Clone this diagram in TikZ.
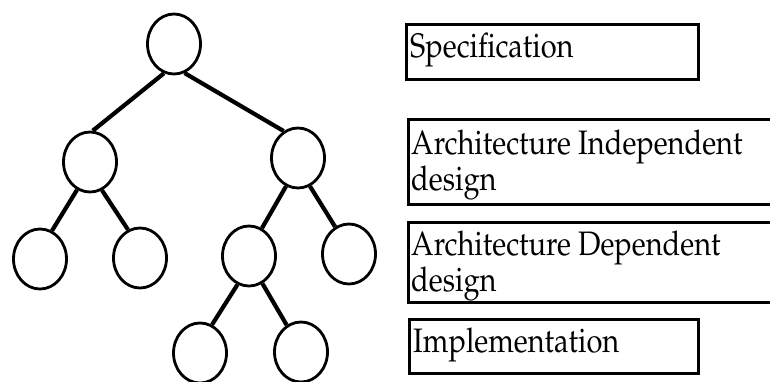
\documentclass[tikz,border=0pt]{standalone}
\usepackage[T1]{fontenc}
\usepackage{mathpazo}
\usepackage{graphicx}
\usetikzlibrary{shapes.geometric}
\tikzset{
  vtx/.style={draw, ellipse, line width=2.8pt, minimum width=53pt, minimum height=60pt, inner sep=0pt},
  edge/.style={line width=4.2pt},
  box/.style={draw, line width=2.8pt, anchor=north west, inner sep=0pt},
  lbl/.style={anchor=base west, inner sep=0pt, font=\fontsize{29}{30}\selectfont}
}
\newcommand{\vstr}[1]{\scalebox{1}[1.17]{#1}}
\begin{document}
\begin{tikzpicture}[x=1pt,y=1pt]
\useasboundingbox (0,0) rectangle (770,-381);
% tree
\node[vtx] (root) at (174,-44) {};
\node[vtx] (l) at (90,-162) {};
\node[vtx] (r) at (298,-158) {};
\node[vtx] (ll) at (40,-259) {};
\node[vtx] (lr) at (140,-258) {};
\node[vtx] (rl) at (249,-256) {};
\node[vtx] (rr) at (349,-254) {};
\node[vtx] (rll) at (200,-353) {};
\node[vtx] (rlr) at (301,-352) {};
\draw[edge] (root.251) -- (l.85);
\draw[edge] (root.290) -- (r.118);
\draw[edge] (l.245) -- (ll.67);
\draw[edge] (l.293) -- (lr.113);
\draw[edge] (r.247) -- (rl.65);
\draw[edge] (r.293) -- (rr.117);
\draw[edge] (rl.248) -- (rll.67);
\draw[edge] (rl.296) -- (rlr.118);
% boxes
\node[box, minimum width=292pt, minimum height=55pt] (spec) at (405,-23) {};
\node[box, minimum width=380pt, minimum height=85pt] (indep) at (407,-118) {};
\node[box, minimum width=380pt, minimum height=80pt] (dep) at (407,-221) {};
\node[box, minimum width=289pt, minimum height=54pt] (impl) at (408,-318) {};
\node[lbl] (spect) at (410,-57) {\vstr{Specification}};
\node[lbl] (indept) at (411,-190) {\vstr{\begin{tabular}[b]{@{}l@{}}Architecture Independent\\design\end{tabular}}};
\node[lbl] (dept) at (411,-291) {\vstr{\begin{tabular}[b]{@{}l@{}}Architecture Dependent\\design\end{tabular}}};
\node[lbl] (implt) at (413,-352) {\vstr{Implementation}};
\end{tikzpicture}
\end{document}
